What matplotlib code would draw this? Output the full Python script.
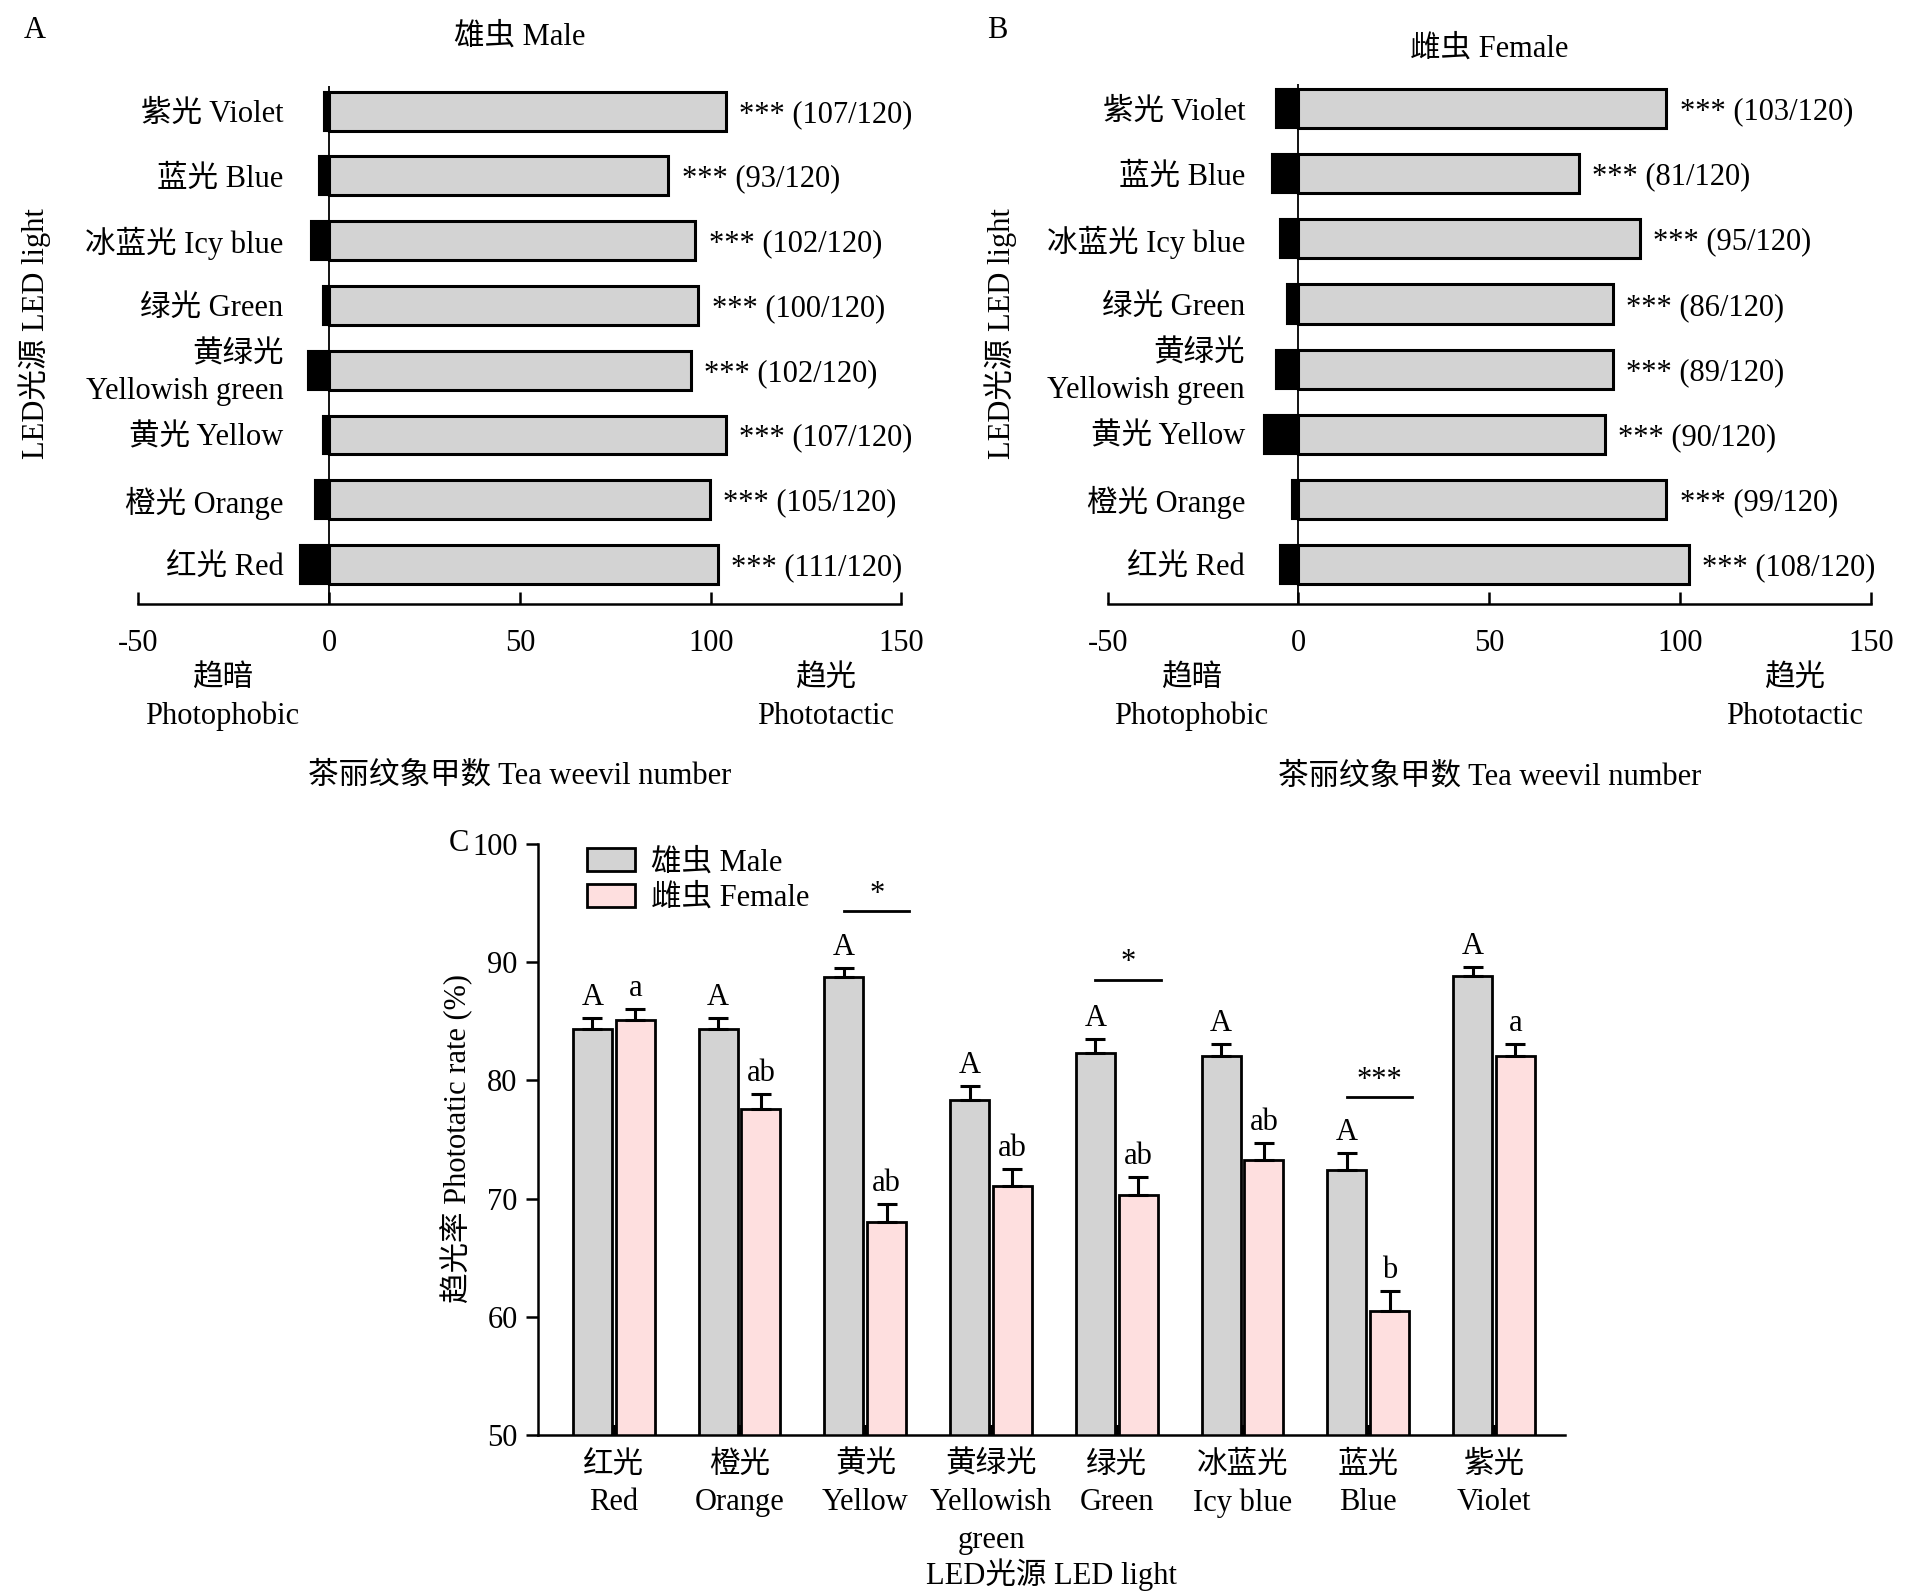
import numpy as np
import matplotlib
matplotlib.use('Agg')
import matplotlib.pyplot as plt

plt.rcParams['font.family'] = ['Liberation Serif', 'Noto Sans CJK SC']
plt.rcParams['font.size'] = 22
plt.rcParams['axes.linewidth'] = 1.6
plt.rcParams['axes.unicode_minus'] = False

# panels A / B (rows from bottom to top)
lights_ab = ['红光 Red', '橙光 Orange', '黄光 Yellow', '黄绿光\nYellowish green',
             '绿光 Green', '冰蓝光 Icy blue', '蓝光 Blue', '紫光 Violet']
male_dark = [7.6, 3.7, 1.6, 5.6, 1.6, 4.7, 2.6, 1.3]
male_light = [101.8, 99.7, 103.9, 94.8, 96.8, 96.0, 88.9, 103.9]
male_counts = [111, 105, 107, 102, 100, 102, 93, 107]
female_dark = [4.9, 1.8, 9.0, 5.9, 2.9, 4.9, 7.0, 5.9]
female_light = [102.3, 96.4, 80.3, 82.4, 82.4, 89.4, 73.5, 96.4]
female_counts = [108, 99, 90, 89, 86, 95, 81, 103]
total = 120

# panel C
lights_c = ['红光\nRed', '橙光\nOrange', '黄光\nYellow', '黄绿光\nYellowish\ngreen',
            '绿光\nGreen', '冰蓝光\nIcy blue', '蓝光\nBlue', '紫光\nViolet']
male_rate = [84.3, 84.3, 88.75, 78.3, 82.35, 82.05, 72.45, 88.8]
male_err = [1.0, 1.0, 0.75, 1.2, 1.15, 1.05, 1.45, 0.8]
female_rate = [85.1, 77.55, 68.0, 71.1, 70.3, 73.3, 60.5, 82.05]
female_err = [0.95, 1.3, 1.55, 1.4, 1.5, 1.4, 1.7, 1.05]
male_letters = ['A', 'A', 'A', 'A', 'A', 'A', 'A', 'A']
female_letters = ['a', 'ab', 'ab', 'ab', 'ab', 'ab', 'b', 'a']
sig_group = [2, 4, 6]
sig_mark = ['*', '*', '***']
sig_level = [94.3, 88.5, 78.6]

W, H = 1550, 1288  # layout grid used for placing things


def box(l, r, t, b):
    return [l / W, 1 - b / H, (r - l) / W, (b - t) / H]


def choice_panel(ax, dark, light, counts, title, title_y, label_x):
    y = np.arange(len(lights_ab))
    ax.barh(y, -np.array(dark), height=0.6, color='black', edgecolor='black', lw=1.5)
    ax.barh(y, light, height=0.6, color='#d3d3d3', edgecolor='black', lw=2.2)
    ax.axvline(0, color='black', lw=1.3)
    for yi, v, c in zip(y, light, counts):
        ax.text(v + 3.5, yi - 0.05, f'*** ({c}/{total})', va='center', ha='left')
    for yi, lab in zip(y, lights_ab):
        ax.text(label_x, yi - 0.05, lab, ha='right', va='center', multialignment='right',
                linespacing=1.35)
    ax.set_xlim(-50, 150)
    ax.set_ylim(-0.61, 7.38)
    ax.set_yticks([])
    ax.set_xticks([-50, 0, 50, 100, 150])
    ax.tick_params(axis='x', direction='in', length=9, width=1.8, pad=18)
    for s in ['left', 'right', 'top']:
        ax.spines[s].set_visible(False)
    ax.spines['bottom'].set_linewidth(1.8)
    ax.text(-28, -0.18, '趋暗\nPhotophobic', transform=ax.get_xaxis_transform(),
            ha='center', va='center', linespacing=1.4)
    ax.text(130, -0.18, '趋光\nPhototactic', transform=ax.get_xaxis_transform(),
            ha='center', va='center', linespacing=1.4)
    ax.text(0.5, -0.332, '茶丽纹象甲数 Tea weevil number', transform=ax.transAxes,
            ha='center', va='center')
    ax.text(0.5, title_y, title, transform=ax.transAxes, ha='center', va='center')


fig = plt.figure(figsize=(19.14, 15.91), dpi=100)

axA = fig.add_axes(box(112, 730, 70, 489))
choice_panel(axA, male_dark, male_light, male_counts, '雄虫 Male', 1.095, -12)
axB = fig.add_axes(box(897, 1515, 68, 489))
choice_panel(axB, female_dark, female_light, female_counts, '雌虫 Female', 1.067, -14)

fig.text(28 / W, 1 - 25 / H, 'A', ha='center', va='center')
fig.text(808 / W, 1 - 25 / H, 'B', ha='center', va='center')
fig.text(28 / W, 1 - 270 / H, 'LED光源 LED light', rotation=90, ha='center', va='center')
fig.text(810 / W, 1 - 270 / H, 'LED光源 LED light', rotation=90, ha='center', va='center')

# panel C
axC = fig.add_axes(box(436, 1267, 683, 1162))
x = np.arange(len(lights_c))
off, bw = 0.17, 0.31
ekw = dict(elinewidth=2.2, capthick=2.2, ecolor='black')
axC.bar(x - off, male_rate, width=bw, color='#d3d3d3', edgecolor='black', lw=2,
        yerr=[np.zeros(len(x)), male_err], capsize=7.5, error_kw=ekw, label='雄虫 Male')
axC.bar(x + off, female_rate, width=bw, color='#fedfdf', edgecolor='black', lw=2,
        yerr=[np.zeros(len(x)), female_err], capsize=7.5, error_kw=ekw, label='雌虫 Female')
for xi, v, e, t in zip(x, male_rate, male_err, male_letters):
    axC.text(xi - off, v + e + 0.5, t, ha='center', va='bottom')
for xi, v, e, t in zip(x, female_rate, female_err, female_letters):
    axC.text(xi + off, v + e + 0.5, t, ha='center', va='bottom')
for g, m, lv in zip(sig_group, sig_mark, sig_level):
    axC.plot([g - 0.17, g + 0.35], [lv, lv], color='black', lw=2)
    axC.text(g + 0.09, lv + 0.2, m, ha='center', va='bottom')
axC.set_xlim(-0.6, 7.56)
axC.set_ylim(50, 100)
axC.set_yticks(range(50, 101, 10))
axC.set_xticks(x)
axC.set_xticklabels(lights_c, linespacing=1.4)
axC.tick_params(axis='y', direction='out', length=9, width=1.8, pad=6)
axC.tick_params(axis='x', direction='in', length=7, width=3, pad=11)
for s in ['right', 'top']:
    axC.spines[s].set_visible(False)
axC.spines['left'].set_linewidth(1.8)
axC.spines['bottom'].set_linewidth(1.8)
axC.text(0.5, -0.236, 'LED光源 LED light', transform=axC.transAxes, ha='center', va='center')
axC.legend(loc='upper left', bbox_to_anchor=(0.032, 1.018), frameon=False, borderpad=0,
           handlelength=1.6, handleheight=0.75, handletextpad=0.5, labelspacing=0.22)
fig.text(372 / W, 1 - 683 / H, 'C', ha='center', va='center')
fig.text(370 / W, 1 - 922 / H, '趋光率 Phototatic rate (%)', rotation=90, ha='center', va='center')

fig.savefig('out.png', dpi=100)
